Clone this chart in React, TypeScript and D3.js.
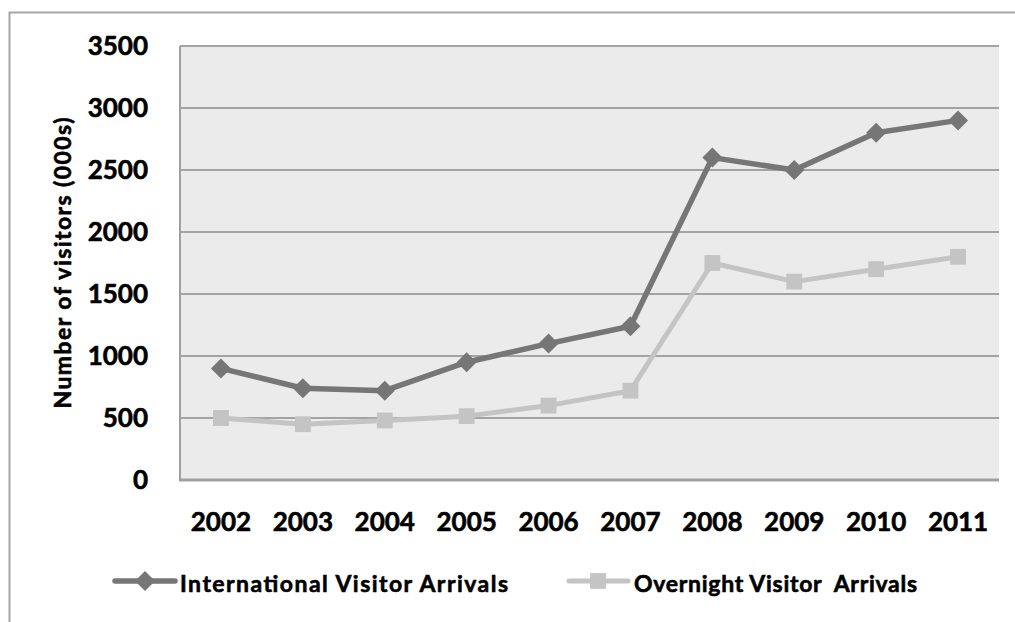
import React from "react";
import * as d3 from "d3";

// Visitor arrivals by year (thousands)
const years = ["2002", "2003", "2004", "2005", "2006", "2007", "2008", "2009", "2010", "2011"];
const internationalArrivals = [900, 740, 720, 950, 1100, 1240, 2600, 2500, 2800, 2900];
const overnightArrivals = [500, 450, 480, 515, 600, 720, 1750, 1600, 1700, 1800];
const yTicks = [0, 500, 1000, 1500, 2000, 2500, 3000, 3500];

const seriesNames = ["International Visitor Arrivals", "Overnight Visitor  Arrivals"];

const W = 1015;
const H = 622;
const plot = { left: 180, right: 999, top: 46, bottom: 480 };
const FONT = "Lato, 'Open Sans', sans-serif";

const darkGrey = "#767676";
const lightGrey = "#c4c4c4";

// slightly heavier bold text
const textStyle = { stroke: "#000", strokeWidth: 0.6, paintOrder: "stroke" } as React.CSSProperties;

export default function App() {
  const x = d3.scaleBand<string>().domain(years).range([plot.left, plot.right]);
  const y = d3.scaleLinear().domain([0, 3500]).range([plot.bottom, plot.top]);
  const cx = (yr: string) => (x(yr) as number) + x.bandwidth() / 2;

  const lineGen = d3
    .line<number>()
    .x((_, i) => cx(years[i]))
    .y((v) => y(v));

  const diamond = d3.symbol().type(d3.symbolSquare).size(200)();
  const square = d3.symbol().type(d3.symbolSquare).size(250)();

  return (
    <svg
      width={W}
      height={H}
      style={{ position: "absolute", left: 0, top: 0, display: "block" }}
      fontFamily={FONT}
    >
      <rect x={0} y={0} width={W} height={H} fill="#ffffff" />
      {/* outer chart border */}
      <rect x={9.5} y={12.5} width={W + 20} height={H + 20} fill="none" stroke="#a6a6a6" strokeWidth={2} />

      {/* plot background */}
      <rect
        x={plot.left}
        y={plot.top}
        width={plot.right - plot.left}
        height={plot.bottom - plot.top}
        fill="#ebebeb"
      />

      {/* horizontal gridlines */}
      {yTicks
        .filter((t) => t > 0)
        .map((t) => (
          <line
            key={t}
            x1={plot.left}
            x2={plot.right}
            y1={y(t)}
            y2={y(t)}
            stroke="#a3a3a3"
            strokeWidth={2}
          />
        ))}

      {/* axis lines */}
      <line x1={plot.left} x2={plot.left} y1={plot.top} y2={plot.bottom + 1} stroke="#a0a0a0" strokeWidth={2} />
      <line x1={plot.left - 1} x2={plot.right} y1={plot.bottom} y2={plot.bottom} stroke="#a0a0a0" strokeWidth={3} />

      {/* y tick labels */}
      {yTicks.map((t) => (
        <text
          key={t}
          x={148}
          y={y(t)}
          dy="0.36em"
          textAnchor="end"
          fontSize={26}
          fontWeight="bold"
          fill="#000"
          style={textStyle}
        >
          {t}
        </text>
      ))}

      {/* x tick labels */}
      {years.map((yr) => (
        <text
          key={yr}
          x={cx(yr)}
          y={531}
          textAnchor="middle"
          fontSize={26}
          fontWeight="bold"
          fill="#000"
          style={textStyle}
        >
          {yr}
        </text>
      ))}

      {/* y axis title */}
      <text
        transform={`translate(63, ${(plot.top + plot.bottom) / 2}) rotate(-90)`}
        textAnchor="middle"
        dy="0.36em"
        fontSize={23}
        fontWeight="bold"
        fill="#000"
        textLength={291}
        lengthAdjust="spacing"
        style={textStyle}
      >
        Number of visitors (000s)
      </text>

      {/* series lines */}
      <path d={lineGen(overnightArrivals) || ""} fill="none" stroke={lightGrey} strokeWidth={5} strokeLinejoin="round" />
      <path d={lineGen(internationalArrivals) || ""} fill="none" stroke={darkGrey} strokeWidth={5.5} strokeLinejoin="round" />

      {/* markers */}
      {overnightArrivals.map((v, i) => (
        <path key={"o" + i} d={square || ""} transform={`translate(${cx(years[i])}, ${y(v)})`} fill={lightGrey} />
      ))}
      {internationalArrivals.map((v, i) => (
        <path
          key={"i" + i}
          d={diamond || ""}
          transform={`translate(${cx(years[i])}, ${y(v)}) rotate(45)`}
          fill={darkGrey}
        />
      ))}

      {/* legend */}
      <g>
        <line x1={115} x2={175} y1={581} y2={581} stroke={darkGrey} strokeWidth={5.5} strokeLinecap="round" />
        <path d={diamond || ""} transform="translate(145, 581) rotate(45)" fill={darkGrey} />
        <text
          x={180}
          y={592}
          fontSize={23}
          fontWeight="bold"
          fill="#000"
          textLength={328}
          lengthAdjust="spacing"
          style={textStyle}
        >
          {seriesNames[0]}
        </text>

        <line x1={569} x2={628} y1={581} y2={581} stroke={lightGrey} strokeWidth={5} strokeLinecap="round" />
        <path d={square || ""} transform="translate(598, 581)" fill={lightGrey} />
        <text
          x={634}
          y={592}
          fontSize={23}
          fontWeight="bold"
          fill="#000"
          textLength={283}
          lengthAdjust="spacing"
          xmlSpace="preserve"
          style={{ ...textStyle, whiteSpace: "pre" }}
        >
          {seriesNames[1]}
        </text>
      </g>
    </svg>
  );
}
